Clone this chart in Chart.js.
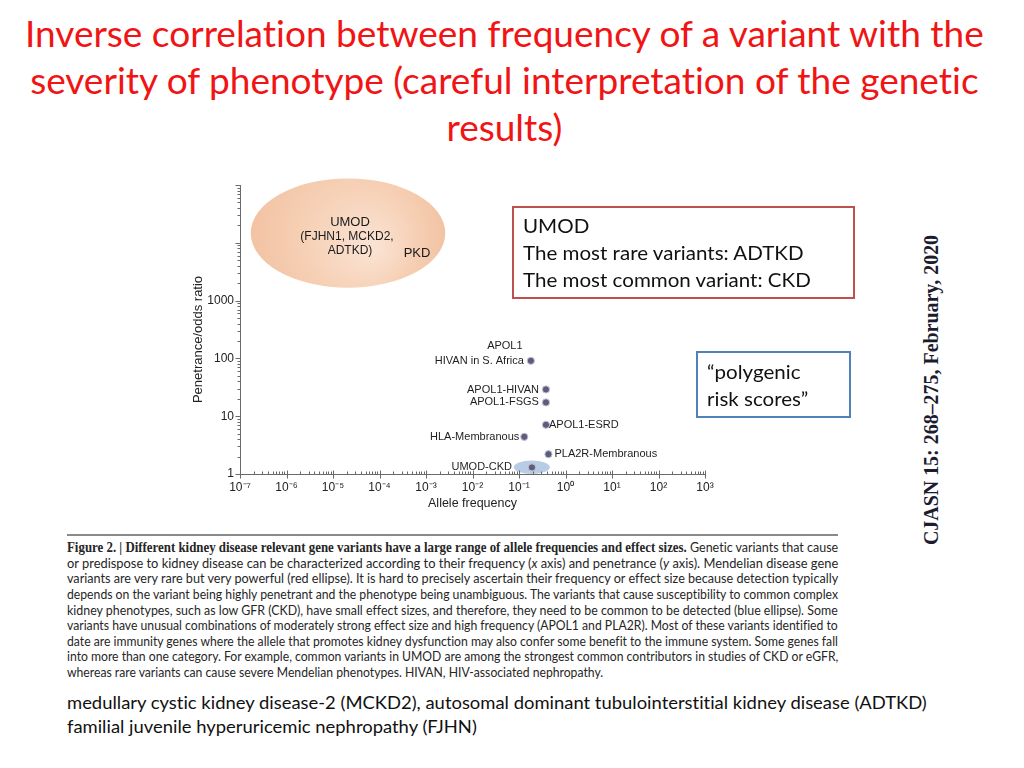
<!DOCTYPE html>
<html>
<head>
<meta charset="utf-8">
<script src="https://cdn.jsdelivr.net/npm/chart.js@4.4.1/dist/chart.umd.min.js"></script>
<style>
html,body{margin:0;padding:0;background:#fff;}
body{width:1024px;height:768px;position:relative;overflow:hidden;font-family:Lato,"Open Sans",sans-serif;font-variant-ligatures:none;font-feature-settings:"liga" 0,"clig" 0;}
.abs{position:absolute;white-space:nowrap;}
.tline{position:absolute;left:0;width:1008px;text-align:center;color:#f01414;font-size:36px;line-height:47px;white-space:nowrap;}
.tline span{display:inline-block;transform-origin:center center;}
.fit{display:inline-block;transform-origin:left center;}
.boxtxt{font-size:18.5px;line-height:27px;color:#111;}
.cap{position:absolute;left:67px;font-size:13.2px;line-height:15.6px;color:#262626;white-space:nowrap;}
.cap b{font-family:"Liberation Serif",serif;font-size:13.6px;}
.bottom{font-size:17px;line-height:24px;color:#111;}
#chartBox{position:absolute;left:150px;top:160px;width:580px;height:370px;}
</style>
</head>
<body>
<div class="tline" style="top:9.5px"><span>Inverse correlation between frequency of a variant with the</span></div>
<div class="tline" style="top:56.5px"><span>severity of phenotype (careful interpretation of the genetic</span></div>
<div class="tline" style="top:103.5px"><span>results)</span></div>

<div id="chartBox"><canvas id="c"></canvas></div>

<div class="abs" style="left:512px;top:206px;width:343px;height:93px;border:2px solid #c0504d;box-sizing:border-box;"></div>
<div class="abs boxtxt" style="left:523px;top:213px;"><span class="fit bx">UMOD</span></div>
<div class="abs boxtxt" style="left:523px;top:240px;"><span class="fit bx" id="boxRef">The most rare variants: ADTKD</span></div>
<div class="abs boxtxt" style="left:523px;top:267px;"><span class="fit bx">The most common variant: CKD</span></div>

<div class="abs" style="left:696px;top:351px;width:155px;height:67px;border:2px solid #4f81bd;box-sizing:border-box;"></div>
<div class="abs boxtxt" style="left:707px;top:359px;"><span class="fit bx">“polygenic</span></div>
<div class="abs boxtxt" style="left:707px;top:386px;"><span class="fit bx">risk scores”</span></div>

<div id="cjasn" class="abs" style="font-family:'Liberation Serif',serif;font-weight:bold;font-size:22px;color:#1c1c30;transform-origin:center center;">CJASN 15: 268–275, February, 2020</div>

<div class="abs" style="left:67px;top:534px;width:771px;height:1.5px;background:#8a8a8a;"></div>
<div id="caption"></div>

<div class="abs bottom" style="left:67px;top:691px;"><span class="fit bt" id="btRef">medullary cystic kidney disease-2 (MCKD2), autosomal dominant tubulointerstitial kidney disease (ADTKD)</span></div>
<div class="abs bottom" style="left:67px;top:715px;"><span class="fit bt">familial juvenile hyperuricemic nephropathy (FJHN)</span></div>

<script>
// ---------------- data ----------------
const variantLabels = [['APOL1', 'HIVAN in S. Africa'], 'APOL1-HIVAN', 'APOL1-FSGS', 'APOL1-ESRD', 'HLA-Membranous', 'PLA2R-Membranous', 'UMOD-CKD'];
const alleleFrequency = [0.18, 0.38, 0.38, 0.38, 0.13, 0.43, 0.19];
const penetrance = [91, 29, 17.3, 7.1, 4.4, 2.2, 1.3];

const xTickValues = [1e-7, 1e-6, 1e-5, 1e-4, 1e-3, 1e-2, 1e-1, 1e0, 1e1, 1e2, 1e3];
const xTickLabels = ['10⁻⁷', '10⁻⁶', '10⁻⁵', '10⁻⁴', '10⁻³', '10⁻²', '10⁻¹', '10⁰', '10¹', '10²', '10³'];
const yTickValues = [1, 10, 100, 1000, 10000, 100000];
const yTickLabels = ['1', '10', '100', '1000', '', ''];
const xAxisTitle = 'Allele frequency';
const yAxisTitle = 'Penetrance/odds ratio';

// regions (data-space extents)
const rareRegionX = [1.7e-7, 2.6e-3];
const rareRegionY = [1670, 130000];
const rareRegionText = ['UMOD', '(FJHN1, MCKD2,', 'ADTKD)'];
const rareRegionExtra = 'PKD';
const commonRegionX = [0.077, 0.46];
const commonRegionY = [1.0, 1.72];

// label placement styles (pixels)
const labelStyle = [
  {side: 'left', dx: -7, headDx: -26, headDy: -15},
  {side: 'left', dx: -7},
  {side: 'left', dx: -7},
  {side: 'right', dx: 3},
  {side: 'left', dx: -5},
  {side: 'right', dx: 6},
  {side: 'left', dx: -20}
];

// ---------------- caption ----------------
const captionLines = [
  ['Figure 2. | Different kidney disease relevant gene variants have a large range of allele frequencies and effect sizes.', ' Genetic variants that cause'],
  ['', 'or predispose to kidney disease can be characterized according to their frequency (<i>x</i> axis) and penetrance (<i>y</i> axis). Mendelian disease gene'],
  ['', 'variants are very rare but very powerful (red ellipse). It is hard to precisely ascertain their frequency or effect size because detection typically'],
  ['', 'depends on the variant being highly penetrant and the phenotype being unambiguous. The variants that cause susceptibility to common complex'],
  ['', 'kidney phenotypes, such as low GFR (CKD), have small effect sizes, and therefore, they need to be common to be detected (blue ellipse). Some'],
  ['', 'variants have unusual combinations of moderately strong effect size and high frequency (APOL1 and PLA2R). Most of these variants identified to'],
  ['', 'date are immunity genes where the allele that promotes kidney dysfunction may also confer some benefit to the immune system. Some genes fall'],
  ['', 'into more than one category. For example, common variants in UMOD are among the strongest common contributors in studies of CKD or eGFR,'],
  ['', 'whereas rare variants can cause severe Mendelian phenotypes. HIVAN, HIV-associated nephropathy.']
];
const capBox = document.getElementById('caption');
captionLines.forEach((ln, i) => {
  const d = document.createElement('div');
  d.className = 'cap';
  d.style.top = (548 + i * 15.6 - 7.8) + 'px';
  const s = document.createElement('span');
  s.className = 'fit capline';
  s.innerHTML = (ln[0] ? '<b>' + ln[0] + '</b>' : '') + ln[1];
  if (i === captionLines.length - 1) s.dataset.last = '1';
  d.appendChild(s);
  capBox.appendChild(d);
});

function layoutText() {
  const tl = [...document.querySelectorAll('.tline span')];
  tl.forEach(s => s.style.transform = '');
  const kt = 959 / tl[0].offsetWidth;
  tl.forEach(s => s.style.transform = 'scaleX(' + kt + ')');

  let capScale = 1;
  const caps = [...document.querySelectorAll('.capline')];
  caps.forEach(s => { s.style.transform = ''; s.style.wordSpacing = ''; });
  caps.forEach(s => {
    const w = s.offsetWidth;
    if (s.dataset.last) { s.style.transform = 'scaleX(' + capScale + ')'; return; }
    const n = (s.textContent.match(/ /g) || []).length;
    if (w <= 771) s.style.wordSpacing = ((771 - w) / n) + 'px';
    else { capScale = Math.min(capScale, 771 / w); s.style.transform = 'scaleX(' + (771 / w) + ')'; }
  });

  const bx = [...document.querySelectorAll('.bx')];
  bx.forEach(s => s.style.transform = '');
  const kb = 281 / document.getElementById('boxRef').offsetWidth;
  bx.forEach(s => s.style.transform = 'scaleX(' + kb + ')');

  const bt = [...document.querySelectorAll('.bt')];
  bt.forEach(s => s.style.transform = '');
  const kbt = 860 / document.getElementById('btRef').offsetWidth;
  bt.forEach(s => s.style.transform = 'scaleX(' + kbt + ')');

  const cj = document.getElementById('cjasn');
  cj.style.transform = '';
  const w = cj.offsetWidth, h = cj.offsetHeight;
  cj.style.left = (931 - w / 2) + 'px';
  cj.style.top = (390 - h / 2) + 'px';
  cj.style.transform = 'rotate(-90deg) scaleX(' + (310 / w) + ')';
}
layoutText();
if (document.fonts && document.fonts.ready) document.fonts.ready.then(layoutText);

// ---------------- chart ----------------
const chartFont = '"Liberation Sans", Arial, sans-serif';

const annotPlugin = {
  id: 'annot',
  beforeDatasetsDraw(chart) {
    const {ctx, scales: {x, y}} = chart;
    // rare-variant (red) ellipse
    let x0 = x.getPixelForValue(rareRegionX[0]), x1 = x.getPixelForValue(rareRegionX[1]);
    let y0 = y.getPixelForValue(rareRegionY[0]), y1 = y.getPixelForValue(rareRegionY[1]);
    let cx = (x0 + x1) / 2, cy = (y0 + y1) / 2, rx = Math.abs(x1 - x0) / 2, ry = Math.abs(y1 - y0) / 2;
    ctx.save();
    const g = ctx.createRadialGradient(cx + 25, cy + 15, 5, cx, cy, rx);
    g.addColorStop(0, '#fae2d2');
    g.addColorStop(0.55, '#f6d0b5');
    g.addColorStop(1, '#f2c3a3');
    ctx.fillStyle = g;
    ctx.beginPath(); ctx.ellipse(cx, cy, rx, ry, 0, 0, Math.PI * 2); ctx.fill();
    ctx.fillStyle = '#1a1a1a';
    ctx.textAlign = 'center'; ctx.textBaseline = 'middle';
    ctx.font = '13px ' + chartFont;
    ctx.fillText(rareRegionText[0], cx + 2, cy - 11);
    ctx.font = '12px ' + chartFont;
    ctx.fillText(rareRegionText[1], cx - 1, cy + 4);
    ctx.fillText(rareRegionText[2], cx + 2, cy + 18);
    ctx.font = '13px ' + chartFont;
    ctx.fillText(rareRegionExtra, cx + 69, cy + 20);
    // common-variant (blue) ellipse
    x0 = x.getPixelForValue(commonRegionX[0]); x1 = x.getPixelForValue(commonRegionX[1]);
    y0 = y.getPixelForValue(commonRegionY[0]); y1 = y.getPixelForValue(commonRegionY[1]);
    cx = (x0 + x1) / 2; cy = (y0 + y1) / 2; rx = Math.abs(x1 - x0) / 2; ry = Math.abs(y1 - y0) / 2;
    ctx.fillStyle = '#b8cce6';
    ctx.beginPath(); ctx.ellipse(cx, cy, rx, ry, 0, 0, Math.PI * 2); ctx.fill();
    ctx.restore();
  },
  afterDatasetsDraw(chart) {
    const {ctx} = chart;
    const meta = chart.getDatasetMeta(0);
    ctx.save();
    ctx.font = '11px ' + chartFont;
    ctx.fillStyle = '#1e1e1e';
    ctx.textBaseline = 'middle';
    meta.data.forEach((pt, i) => {
      const st = labelStyle[i];
      const lab = variantLabels[i];
      const main = Array.isArray(lab) ? lab[lab.length - 1] : lab;
      ctx.textAlign = st.side === 'left' ? 'right' : 'left';
      ctx.fillText(main, pt.x + st.dx, pt.y);
      if (Array.isArray(lab)) {
        ctx.textAlign = 'center';
        for (let k = 0; k < lab.length - 1; k++) {
          ctx.fillText(lab[k], pt.x + st.headDx, pt.y + st.headDy * (lab.length - 1 - k));
        }
      }
    });
    ctx.restore();
  },
  afterDraw(chart) {
    const {ctx, scales: {x, y}, chartArea: ca} = chart;
    ctx.save();
    ctx.strokeStyle = '#6a6a6a';
    ctx.lineWidth = 1;
    ctx.beginPath();
    const yl = Math.round(ca.left) + 0.5;
    for (let d = 0; d <= 5; d++) {
      for (let m = 1; m <= 9; m++) {
        const v = m * Math.pow(10, d);
        if (v > 100000) break;
        const p = Math.round(y.getPixelForValue(v)) + 0.5;
        const len = m === 1 ? 5 : 3;
        ctx.moveTo(yl - len, p); ctx.lineTo(yl, p);
      }
    }
    const xb = Math.round(ca.bottom) + 0.5;
    for (let d = -7; d <= 3; d++) {
      for (let m = 1; m <= 9; m++) {
        const v = m * Math.pow(10, d);
        if (v > 1000) break;
        const p = Math.round(x.getPixelForValue(v)) + 0.5;
        if (m === 1) { ctx.moveTo(p, xb - 4); ctx.lineTo(p, xb + 4); }
        else { ctx.moveTo(p, xb - 3); ctx.lineTo(p, xb); }
      }
    }
    ctx.stroke();
    // y-axis title, centred where the reference places it
    ctx.fillStyle = '#222';
    ctx.font = '13px ' + chartFont;
    ctx.textAlign = 'center'; ctx.textBaseline = 'middle';
    ctx.translate(48, (ca.top + ca.bottom) / 2 + 10);
    ctx.rotate(-Math.PI / 2);
    ctx.fillText(yAxisTitle, 0, 0);
    ctx.restore();
  }
};

new Chart(document.getElementById('c'), {
  type: 'scatter',
  data: {
    datasets: [{
      data: alleleFrequency.map((v, i) => ({x: v, y: penetrance[i]})),
      pointRadius: 3.6,
      pointBackgroundColor: '#5e5c7c',
      pointBorderColor: '#c4c3d6',
      pointBorderWidth: 1
    }]
  },
  options: {
    responsive: true,
    maintainAspectRatio: false,
    animation: false,
    events: [],
    layout: {padding: {left: 40, right: 25, top: 25, bottom: 6}},
    plugins: {legend: {display: false}, tooltip: {enabled: false}},
    scales: {
      x: {
        type: 'logarithmic',
        min: 1e-7, max: 1e3,
        afterBuildTicks: s => { s.ticks = xTickValues.map(v => ({value: v})); },
        afterFit: s => { s.height = 50; },
        grid: {display: false, drawTicks: false},
        border: {display: true, color: '#6a6a6a', width: 1},
        ticks: {
          autoSkip: false, maxRotation: 0, padding: 6,
          color: '#222', font: {family: chartFont, size: 12},
          callback: (v, i) => xTickLabels[i]
        },
        title: {display: true, text: xAxisTitle, color: '#222', font: {family: chartFont, size: 12.5}, padding: {top: 0, bottom: 13}}
      },
      y: {
        type: 'logarithmic',
        min: 1, max: 1e5,
        afterBuildTicks: s => { s.ticks = yTickValues.map(v => ({value: v})); },
        afterFit: s => { s.width = 50; },
        grid: {display: false, drawTicks: false},
        border: {display: true, color: '#6a6a6a', width: 1},
        ticks: {
          autoSkip: false, padding: 6,
          color: '#222', font: {family: chartFont, size: 12},
          callback: (v, i) => yTickLabels[i]
        },
        title: {display: false}
      }
    }
  },
  plugins: [annotPlugin]
});
</script>
</body>
</html>
